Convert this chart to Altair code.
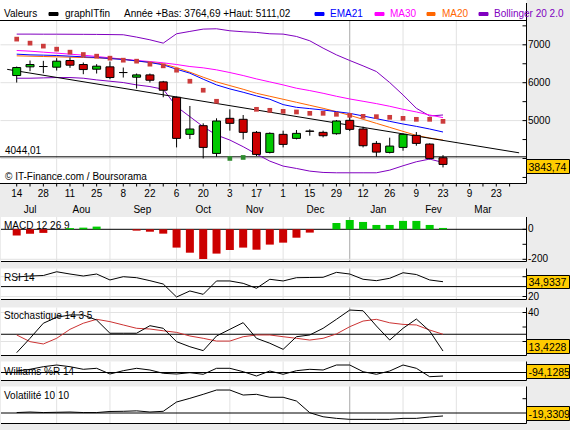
import altair as alt
import numpy as np
import pandas as pd

FONT = "Liberation Sans"
RED = "#cc0000"
GREEN = "#00c800"

# ---------------- data (weekly candles) ----------------
weeks = ["2008-07-14", "2008-07-21", "2008-07-28", "2008-08-04", "2008-08-11", "2008-08-18",
         "2008-08-25", "2008-09-01", "2008-09-08", "2008-09-15", "2008-09-22", "2008-09-29",
         "2008-10-06", "2008-10-13", "2008-10-20", "2008-10-27", "2008-11-03", "2008-11-10",
         "2008-11-17", "2008-11-24", "2008-12-01", "2008-12-08", "2008-12-15", "2008-12-22",
         "2008-12-29", "2009-01-05", "2009-01-12", "2009-01-19", "2009-01-26", "2009-02-02",
         "2009-02-09", "2009-02-16", "2009-02-23"]
open_ = [6189, 6418, 6427, 6409, 6586, 6480, 6356, 6418, 6268, 6145, 6206, 6021, 5616, 4637,
         4866, 4134, 5060, 5034, 4690, 4161, 4637, 4531, 4725, 4690, 4654, 5007, 4778, 4399,
         4161, 4293, 4610, 4381, 4020]
high = [6427, 6586, 6577, 6647, 6665, 6533, 6489, 6559, 6400, 6242, 6242, 6048, 5633, 5386,
        4928, 5060, 5298, 5148, 4725, 4690, 4734, 4751, 4769, 4734, 5016, 5111.02, 4840, 4460,
        4549, 4663, 4698, 4399, 4090]
low = [6004, 6303, 6250, 6321, 6392, 6224, 6242, 6092, 6136, 5845, 6004, 5616, 4293, 4513,
       4002, 4046, 4734, 4504, 4064, 4134, 4293, 4504, 4601, 4557, 4628, 4725, 4293, 4046,
       4134, 4205, 4337, 3975, 3764.69]
close = [6400, 6480, 6427, 6568, 6462, 6347, 6436, 6136, 6268, 6206, 6065, 5801, 4531, 4778,
         4293, 4989, 4928, 4690, 4108, 4663, 4372, 4663, 4716, 4601, 4989, 4769, 4337, 4169,
         4328, 4637, 4399, 4002, 3843.74]
sar = [7150, 7044, 6965, 6885, 6806, 6744, 6700, 6647, 6594, 6568, 6489, 6445, 6330, 6039,
       5801, 5510, 4002, 4028, 5298, 5272, 5245, 5228, 5192, 5192, 5166, 5139, 5113, 5104,
       5087, 5060, 5034, 5034, 4980]
ema21 = [6753, 6735, 6727, 6718, 6700, 6683, 6665, 6638, 6612, 6577, 6533, 6471, 6356, 6251,
         6092, 5942, 5836, 5748, 5651, 5563, 5422, 5351, 5316, 5280, 5236, 5192, 5122, 5051,
         4980, 4910, 4848, 4778, 4699]
ma30 = [6850, 6832, 6806, 6780, 6753, 6727, 6691, 6656, 6621, 6586, 6559, 6524, 6480, 6427,
        6392, 6339, 6268, 6189, 6100, 6021, 5942, 5854, 5792, 5721, 5642, 5571, 5510, 5448,
        5378, 5298, 5228, 5148, 5078]
ma20 = [6709, 6700, 6691, 6683, 6674, 6665, 6656, 6638, 6621, 6568, 6541, 6489, 6400, 6277,
        6145, 6021, 5924, 5827, 5721, 5642, 5563, 5483, 5404, 5325, 5236, 5139, 5034, 4928,
        4822, 4716, 4610, 4540, 4487]
boll_up = [7282, 7282, 7280, 7280, 7278, 7276, 7274, 7270, 7265, 7203, 7132, 7044, 7291, 7353,
           7414, 7423, 7370, 7344, 7326, 7291, 7282, 7220, 7106, 6912, 6735, 6586, 6444, 6295,
           6004, 5677, 5325, 5122, 5148]
boll_low = [6118, 6118, 6127, 6136, 6136, 6118, 6074, 6039, 6004, 5942, 5898, 5827, 5369, 5104,
            4839, 4619, 4487, 4311, 4117, 3931, 3800, 3737, 3667, 3632, 3623, 3623, 3623, 3623,
            3693, 3808, 3914, 3984, 3896]
trend_dates = ["2008-07-09", "2009-04-04"]
trend_vals = [6352, 4150]
support_level = 4044.01

macd = [-42, -29, -24, 0, 8, 11, 18, 0, 0, -9, -16, -29, -122, -156, -198, -162, -138, -122,
        -136, -102, -89, -56, -22, 0, 42, 62, 49, 29, 29, 56, 56, 29, 9]
rsi = [39.7, 40.7, 41.2, 45.0, 42.7, 40.7, 42.7, 36.7, 40.0, 39.0, 36.0, 32.6, 19.5, 25.6,
       22.2, 35.7, 35.7, 33.3, 28.3, 37.4, 35.7, 39.0, 39.2, 39.4, 44.4, 42.7, 37.4, 36.0,
       38.4, 44.0, 42.2, 36.7, 34.9337]
stoch_k = [12.3, 22.2, 32.6, 36.7, 38.3, 38.3, 34.8, 25.7, 25.7, 25.7, 30.9, 29.1, 19.9, 16.4,
           13.7, 23.8, 28.4, 33.0, 22.2, 18.8, 14.6, 23.3, 24.5, 29.1, 35.3, 41.7, 41.2, 30.7,
           21.0, 29.1, 35.5, 27.2, 13.4228]
stoch_d = [24.5, 19.9, 18.3, 22.2, 28.4, 32.6, 35.3, 33.7, 31.4, 29.1, 28.6, 27.4, 26.3, 23.8,
           22.2, 20.3, 20.3, 23.3, 24.5, 24.5, 23.3, 22.2, 21.0, 22.2, 25.2, 30.2, 34.1, 35.3,
           32.9, 31.8, 31.4, 27.9, 25.0]
williams = [-74, -67.2, -56.8, -50, -56.8, -67.2, -63.2, -86, -72.8, -63.2, -70, -83.2, -86,
            -80.8, -87.2, -63.2, -63.2, -76.8, -94, -74, -87.2, -72.8, -67.2, -70, -50, -50,
            -76.8, -87.2, -74, -50, -63.2, -96.8, -94.1285]
volat = [-15.5, -14.9, -15.5, -15.2, -14.9, -15.5, -15.5, -14.3, -14.1, -13.6, -14.9, -14.1,
         -3.7, 0.4, 4.9, 9.7, 9.7, 4.1, 4.9, 1.6, 1.6, -2.6, -15.7, -20.2, -22.0, -23.1, -23.1,
         -23.1, -23.1, -22.0, -22.0, -20.5, -19.3309]

day_tick_dates = ["2008-07-14", "2008-07-28", "2008-08-11", "2008-08-25", "2008-09-08",
                  "2008-09-22", "2008-10-06", "2008-10-20", "2008-11-03", "2008-11-17",
                  "2008-12-01", "2008-12-15", "2008-12-29", "2009-01-12", "2009-01-26",
                  "2009-02-09", "2009-02-23", "2009-03-09", "2009-03-23"]
month_names = ["Jul", "Aou", "Sep", "Oct", "Nov", "Dec", "Jan", "Fev", "Mar"]
month_label_dates = ["2008-07-21", "2008-08-17", "2008-09-18", "2008-10-20", "2008-11-16",
                     "2008-12-18", "2009-01-20", "2009-02-18", "2009-03-16"]
grid_dates = ["2008-08-04", "2008-09-01", "2008-10-06", "2008-11-03", "2008-12-01",
              "2009-01-05", "2009-02-02", "2009-03-02"]

# ---------------- derived tables ----------------
T0 = pd.Timestamp("2008-07-14")


def days(lst):
    return [(pd.Timestamp(s) - T0).days for s in lst]


df = pd.DataFrame({"open": open_, "high": high, "low": low, "close": close, "sar": sar,
                   "ema21": ema21, "ma30": ma30, "ma20": ma20, "bup": boll_up, "blo": boll_low,
                   "macd": macd, "rsi": rsi, "k": stoch_k, "dd": stoch_d, "wr": williams,
                   "vol": volat})
df["d"] = days(weeks)
df["zero"] = 0.0
df["body_color"] = np.select([df.close > df.open, df.close < df.open], [GREEN, RED], "#000000")
df["sar_color"] = np.where(df.sar > df.close, "#cc3c3c", "#2e8b2e")
df["macd_color"] = np.where(df.macd >= 0, "#00cc00", "#cc0000")

trend = pd.DataFrame({"d": days(trend_dates), "v": trend_vals})

# ---------------- scales ----------------
XS = alt.Scale(domain=[0, 224], range=[11.7, 448.0], nice=False, zero=False)
X = alt.X("d:Q", scale=XS, axis=None)


def ysc(d0, d1, p0, p1):
    return alt.Scale(domain=[d0, d1], range=[p0, p1], nice=False, zero=False)


Y_MAIN = ysc(4000, 7000, 158.5, 44.8)
Y_MACD = ysc(-200, 0, 259.3, 229.3)
Y_RSI = ysc(20, 40, 296.5, 276.7)
Y_STO = ysc(20, 40, 341.5, 312.5)
Y_WIL = ysc(-100, -80, 377.5, 372.5)
Y_VOL = ysc(-16, 0, 413.0, 398.7)

# panels: (x0, x1, top, bottom)
panels = [(0, 526.5, 0, 183.5), (1, 526.5, 217, 261.5), (1, 526.5, 268.5, 299.5),
          (1, 526.5, 307.5, 355.5), (1, 526.5, 361.5, 380.5), (1, 526.5, 386.5, 423.5)]


def PX(f):
    return alt.X(f"{f}:Q", scale=None, axis=None)


def PY(f):
    return alt.Y(f"{f}:Q", scale=None, axis=None)


layers = []

# panel backgrounds
bg = pd.DataFrame(panels, columns=["x0", "x1", "y0", "y1"])
layers.append(alt.Chart(bg).mark_rect(color="white").encode(
    x=PX("x0"), x2="x1", y=PY("y0"), y2="y1"))

# vertical grid lines
rows = []
for (x0, x1, y0, y1) in panels:
    top = 20.5 if y0 == 0 else y0
    for g in grid_dates:
        rows.append({"d": days([g])[0], "y0": top, "y1": y1,
                     "c": "#a8a8a8" if g == "2009-01-05" else "#e2e2e2"})
vg = pd.DataFrame(rows)
layers.append(alt.Chart(vg).mark_rule(strokeWidth=1).encode(
    x=X, y=PY("y0"), y2="y1", color=alt.Color("c:N", scale=None)))


def hgrid(vals, scale, x0=0.5):
    return alt.Chart(pd.DataFrame({"v": vals})).mark_rule(color="#e2e2e2", strokeWidth=1).encode(
        y=alt.Y("v:Q", scale=scale, axis=None), x=alt.value(x0), x2=alt.value(526))


layers += [hgrid([4000, 5000, 6000, 7000], Y_MAIN), hgrid([-200], Y_MACD),
           hgrid([20, 40], Y_RSI), hgrid([20, 40], Y_STO)]

# panel titles (under the curves)
ptxt = pd.DataFrame([
    (4, 229, "MACD 12 26 9"), (4, 281, "RSI 14"), (4, 318.5, "Stochastique 14 3 5"),
    (4, 375, "Williams %R 14"), (4, 399, "Volatilité 10 10"),
    (5, 180, "© IT-Finance.com / Boursorama"), (5, 154, "4044,01")],
    columns=["x", "y", "t"])
layers.append(alt.Chart(ptxt).mark_text(align="left", baseline="alphabetic", font=FONT,
                                        fontSize=10, color="black").encode(
    x=PX("x"), y=PY("y"), text="t:N"))


def ref(val, scale, x0=1):
    return alt.Chart(pd.DataFrame({"v": [val]})).mark_rule(color="black", strokeWidth=1).encode(
        y=alt.Y("v:Q", scale=scale, axis=None), x=alt.value(x0), x2=alt.value(526))


layers += [ref(support_level, Y_MAIN, 0), ref(0, Y_MACD), ref(30, Y_RSI), ref(25, Y_STO),
           ref(-80, Y_WIL), ref(-16, Y_VOL)]


def line(data, field, color, scale):
    return alt.Chart(data).mark_line(color=color, strokeWidth=1).encode(
        x=X, y=alt.Y(f"{field}:Q", scale=scale, axis=None))


PURPLE = "#8000c0"
layers += [line(df, "bup", PURPLE, Y_MAIN), line(df, "blo", PURPLE, Y_MAIN),
           line(df, "ma30", "#ff00ff", Y_MAIN), line(df, "ma20", "#ff6600", Y_MAIN),
           line(df, "ema21", "#0000ff", Y_MAIN), line(trend, "v", "black", Y_MAIN)]

# candles
layers.append(alt.Chart(df).mark_rule(color="black", strokeWidth=1).encode(
    x=X, y=alt.Y("low:Q", scale=Y_MAIN, axis=None), y2="high:Q"))
layers.append(alt.Chart(df).mark_bar(width=8, stroke="black", strokeWidth=1).encode(
    x=X, y=alt.Y("open:Q", scale=Y_MAIN, axis=None), y2="close:Q",
    color=alt.Color("body_color:N", scale=None)))
layers.append(alt.Chart(df).mark_square(size=22, opacity=1).encode(
    x=X, y=alt.Y("sar:Q", scale=Y_MAIN, axis=None),
    color=alt.Color("sar_color:N", scale=None)))

# MACD histogram
layers.append(alt.Chart(df).mark_bar(width=8).encode(
    x=X, y=alt.Y("macd:Q", scale=Y_MACD, axis=None), y2="zero:Q",
    color=alt.Color("macd_color:N", scale=None)))

# oscillators
layers += [line(df, "rsi", "black", Y_RSI), line(df, "dd", "#cc3333", Y_STO),
           line(df, "k", "black", Y_STO), line(df, "wr", "black", Y_WIL),
           line(df, "vol", "black", Y_VOL)]

# borders (bottom + right of each panel, title separator)
brd = [(0, 526.5, 20.5, 20.5), (526.5, 526.5, 3, 183.5)]
for (x0, x1, y0, y1) in panels:
    brd.append((x0, 526.5, y1, y1))
    if y0 > 0:
        brd.append((526.5, 526.5, y0, y1))
brd = pd.DataFrame(brd, columns=["x0", "x1", "y0", "y1"])
layers.append(alt.Chart(brd).mark_rule(color="black", strokeWidth=1).encode(
    x=PX("x0"), x2="x1", y=PY("y0"), y2="y1"))


def yaxis(ticks, labels, scale):
    out = [alt.Chart(pd.DataFrame({"v": ticks})).mark_rule(color="black", strokeWidth=1).encode(
        y=alt.Y("v:Q", scale=scale, axis=None), x=alt.value(522.5), x2=alt.value(526.5))]
    if labels:
        out.append(alt.Chart(pd.DataFrame({"v": labels, "t": [str(v) for v in labels]}))
                   .mark_text(align="left", baseline="middle", font=FONT, fontSize=10,
                              color="black")
                   .encode(y=alt.Y("v:Q", scale=scale, axis=None), x=alt.value(528),
                           text="t:N"))
    return out


layers += yaxis([3500, 4000, 4500, 5000, 5500, 6000, 6500, 7000, 7500], [5000, 6000, 7000],
                Y_MAIN)
layers += yaxis([-200, -100, 0], [0, -200], Y_MACD)
layers += yaxis([20, 40], [20], Y_RSI)
layers += yaxis([20, 30, 40], [40], Y_STO)
layers += yaxis([0], [], Y_VOL)

# x axis: weekly ticks, day numbers, month names
wk = pd.DataFrame({"d": days([str(t.date()) for t in
                              pd.date_range("2008-07-14", "2009-03-30", freq="7D")])})
layers.append(alt.Chart(wk).mark_rule(color="black", strokeWidth=1).encode(
    x=X, y=alt.value(183.5), y2=alt.value(186.5)))
dl = pd.DataFrame({"d": days(day_tick_dates),
                   "t": [str(pd.Timestamp(s).day) for s in day_tick_dates]})
layers.append(alt.Chart(dl).mark_text(font=FONT, fontSize=10, color="black",
                                      baseline="alphabetic").encode(
    x=X, y=alt.value(197), text="t:N"))
ml = pd.DataFrame({"d": days(month_label_dates), "t": month_names})
layers.append(alt.Chart(ml).mark_text(font=FONT, fontSize=10, color="black",
                                      baseline="alphabetic").encode(
    x=X, y=alt.value(212.5), text="t:N"))

# legend swatches and value boxes
rects = pd.DataFrame([
    (49, 58, 12.5, 15.5, "#000000", "#000000"), (315, 324, 12.5, 15.5, "#0000ff", "#0000ff"),
    (375, 384, 12.5, 15.5, "#ff00ff", "#ff00ff"), (427, 435, 12.5, 15.5, "#ff6600", "#ff6600"),
    (479, 488, 12.5, 15.5, PURPLE, PURPLE),
    (526.5, 569.5, 159.5, 173.5, "#ffcc00", "#000000"),
    (526.5, 569.5, 275.5, 288.5, "#ffcc00", "#000000"),
    (526.5, 569.5, 339.5, 353.5, "#ffcc00", "#000000"),
    (526.5, 569.5, 364.5, 378.5, "#ffcc00", "#000000"),
    (526.5, 569.5, 406.5, 420.5, "#ffcc00", "#000000")],
    columns=["x0", "x1", "y0", "y1", "f", "s"])
layers.append(alt.Chart(rects).mark_rect(strokeWidth=1).encode(
    x=PX("x0"), x2="x1", y=PY("y0"), y2="y1",
    fill=alt.Fill("f:N", scale=None), stroke=alt.Stroke("s:N", scale=None)))

tt = pd.DataFrame([
    (4, 16.5, "Valeurs", "#000000", 10), (65, 16.5, "graphITfin", "#000000", 10),
    (124, 16.5, "Année +Bas: 3764,69 +Haut: 5111,02", "#000000", 10),
    (330, 16.5, "EMA21", "#0000ff", 10), (390, 16.5, "MA30", "#ff00ff", 10),
    (442, 16.5, "MA20", "#ff6600", 10), (494, 16.5, "Bollinger 20 2.0", PURPLE, 10),
    (528.5, 170.5, "3843,74", "#000000", 10.5), (528.5, 285.5, "34,9337", "#000000", 10.5),
    (528.5, 350.5, "13,4228", "#000000", 10.5), (528.5, 375.5, "-94,1285", "#000000", 10.5),
    (528.5, 417.5, "-19,3309", "#000000", 10.5)],
    columns=["x", "y", "t", "c", "s"])
layers.append(alt.Chart(tt).mark_text(align="left", baseline="alphabetic", font=FONT).encode(
    x=PX("x"), y=PY("y"), text="t:N", color=alt.Color("c:N", scale=None),
    size=alt.Size("s:Q", scale=None)))

chart = alt.layer(*layers).resolve_scale(y="independent").properties(
    width=526, height=430, background="#ececec",
    autosize=alt.AutoSizeParams(type="none"),
    padding={"left": 0, "top": 0, "right": 44, "bottom": 0},
).configure_view(strokeWidth=0)

chart.save("out.html", embed_options={"renderer": "svg", "actions": False})
